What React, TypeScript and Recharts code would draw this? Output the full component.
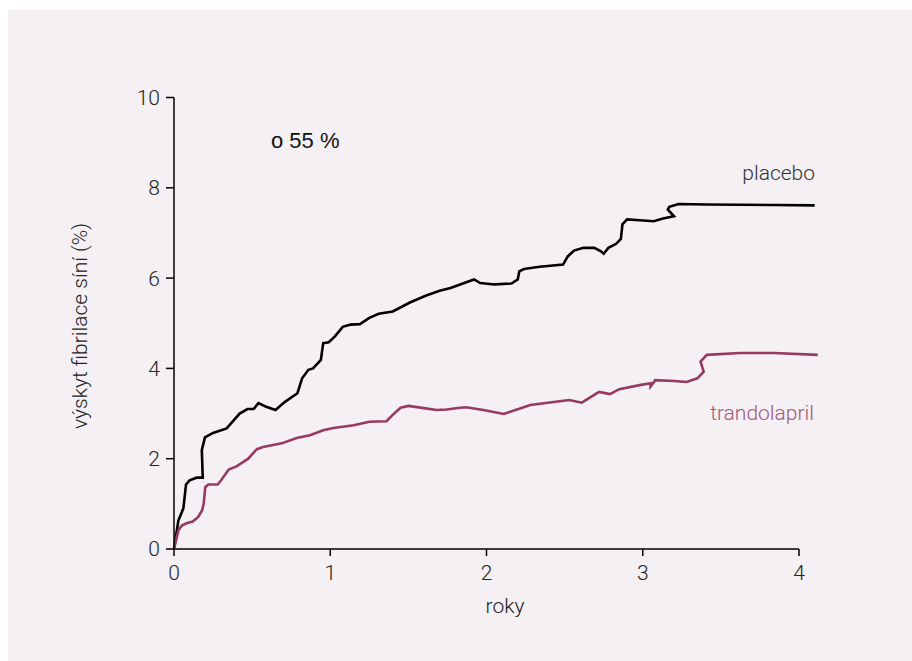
import { LineChart, Line, XAxis, YAxis, ReferenceLine } from "recharts";

// years since randomisation / cumulative incidence (%)
const placeboYears = [
  0, 0.028, 0.06, 0.077, 0.1, 0.145, 0.184, 0.178, 0.198, 0.25, 0.337, 0.42, 0.47, 0.51,
  0.54, 0.59, 0.65, 0.71, 0.79, 0.82, 0.86, 0.89, 0.94, 0.955, 0.99, 1.03, 1.08, 1.13,
  1.19, 1.25, 1.31, 1.4, 1.51, 1.61, 1.7, 1.77, 1.92, 1.96, 2.05, 2.16, 2.2, 2.21, 2.24,
  2.34, 2.49, 2.52, 2.56, 2.62, 2.69, 2.73, 2.75, 2.78, 2.83, 2.86, 2.87, 2.9, 2.98, 3.07,
  3.13, 3.2, 3.16, 3.17, 3.23, 3.41, 3.84, 4.1,
];
const placeboRates = [
  0, 0.63, 0.9, 1.43, 1.52, 1.58, 1.58, 2.19, 2.47, 2.57, 2.67, 3.0, 3.1, 3.1,
  3.23, 3.15, 3.08, 3.26, 3.45, 3.78, 3.97, 4.0, 4.19, 4.56, 4.58, 4.71, 4.92, 4.97,
  4.98, 5.12, 5.21, 5.26, 5.46, 5.61, 5.72, 5.78, 5.97, 5.89, 5.86, 5.88, 5.97, 6.15, 6.2,
  6.25, 6.3, 6.48, 6.61, 6.67, 6.67, 6.6, 6.54, 6.67, 6.76, 6.87, 7.19, 7.3, 7.28, 7.26,
  7.32, 7.37, 7.52, 7.58, 7.64, 7.63, 7.62, 7.61,
];

const trandolaprilYears = [
  0, 0.028, 0.05, 0.08, 0.12, 0.155, 0.18, 0.19, 0.2, 0.22, 0.28, 0.305, 0.35, 0.4,
  0.475, 0.53, 0.57, 0.69, 0.785, 0.87, 0.955, 1.02, 1.15, 1.25, 1.36, 1.4, 1.45, 1.5,
  1.6, 1.68, 1.745, 1.83, 1.87, 1.98, 2.11, 2.28, 2.53, 2.61, 2.72, 2.79, 2.85, 2.98,
  3.05, 3.05, 3.08, 3.2, 3.28, 3.35, 3.39, 3.37, 3.41, 3.62, 3.84, 4.12,
];
const trandolaprilRates = [
  0, 0.41, 0.52, 0.57, 0.61, 0.71, 0.86, 1.0, 1.37, 1.43, 1.43, 1.54, 1.76, 1.83,
  2.0, 2.21, 2.26, 2.34, 2.46, 2.52, 2.63, 2.68, 2.74, 2.82, 2.83, 2.97, 3.13, 3.17,
  3.12, 3.08, 3.09, 3.13, 3.14, 3.08, 2.99, 3.19, 3.3, 3.24, 3.48, 3.43, 3.54, 3.63,
  3.67, 3.6, 3.74, 3.72, 3.7, 3.78, 3.93, 4.15, 4.3, 4.34, 4.34, 4.3,
];

const xTicks = [0, 1, 2, 3, 4];
const yTicks = [0, 2, 4, 6, 8, 10];

const placeboData = placeboYears.map((t, i) => ({ t, v: placeboRates[i] }));
const trandolaprilData = trandolaprilYears.map((t, i) => ({ t, v: trandolaprilRates[i] }));

const LIGHT = { fontFamily: "Roboto, sans-serif", fontWeight: 300 };
const tickStyle = { fill: "#222", fontSize: 21, ...LIGHT };
const axisStroke = { stroke: "#000", strokeWidth: 1.5 };

export default function App() {
  return (
    <div
      style={{
        position: "fixed",
        left: 8,
        top: 10,
        width: 904,
        height: 651,
        background: "#f5f0f4",
      }}
    >
      <LineChart
        width={904}
        height={651}
        margin={{ top: 87.5, right: 94.25, bottom: 82, left: 106 }}
      >
        <XAxis
          type="number"
          dataKey="t"
          domain={[0, 4.12]}
          ticks={xTicks}
          axisLine={false}
          tickLine={axisStroke}
          tickSize={7}
          tickMargin={9}
          tick={tickStyle}
          height={30}
        />
        <YAxis
          type="number"
          domain={[0, 10]}
          ticks={yTicks}
          axisLine={axisStroke}
          tickLine={axisStroke}
          tickSize={8}
          tickMargin={6}
          tick={tickStyle}
          width={60}
        />
        <ReferenceLine
          segment={[
            { x: 0, y: 0 },
            { x: 4, y: 0 },
          ]}
          stroke="#000"
          strokeWidth={1.5}
        />
        <Line
          data={placeboData}
          dataKey="v"
          type="linear"
          stroke="#000"
          strokeWidth={2.6}
          dot={false}
          isAnimationActive={false}
        />
        <Line
          data={trandolaprilData}
          dataKey="v"
          type="linear"
          stroke="#973a62"
          strokeWidth={2.6}
          dot={false}
          isAnimationActive={false}
        />
      </LineChart>
      <svg
        width={904}
        height={651}
        style={{ position: "absolute", left: 0, top: 0, pointerEvents: "none" }}
      >
        <text x={263} y={137.5} fontSize={22} fill="#111" fontFamily="Liberation Sans, sans-serif">
          o 55 %
        </text>
        <text x={807} y={169.5} fontSize={21} fill="#333" textAnchor="end" {...LIGHT}>
          placebo
        </text>
        <text x={806} y={409.5} fontSize={21} fill="#a4567c" textAnchor="end" {...LIGHT}>
          trandolapril
        </text>
        <text x={497} y={603} fontSize={21} fill="#222" textAnchor="middle" {...LIGHT}>
          roky
        </text>
        <text
          x={79}
          y={316}
          fontSize={21}
          fill="#222"
          textAnchor="middle"
          transform="rotate(-90 79 316)"
          {...LIGHT}
        >
          výskyt fibrilace síní (%)
        </text>
      </svg>
    </div>
  );
}
